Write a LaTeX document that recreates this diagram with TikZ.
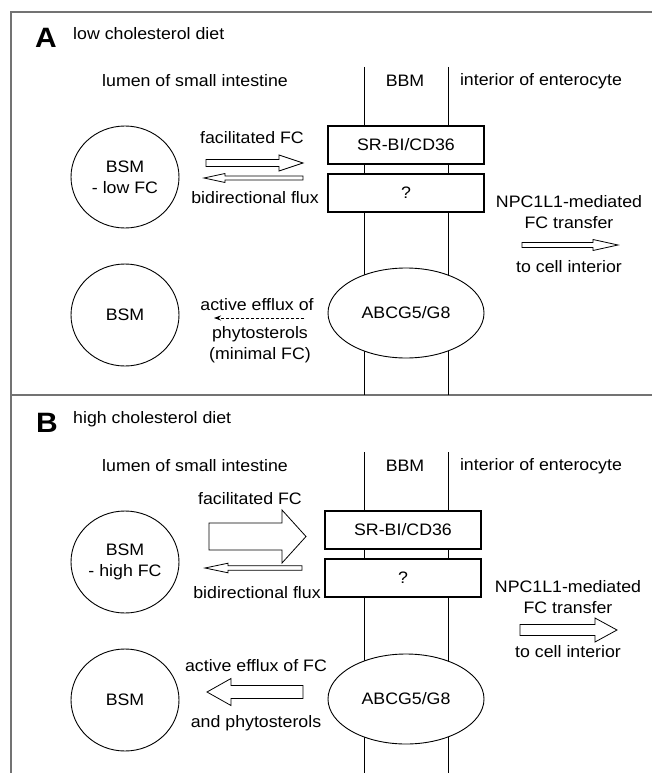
\documentclass[tikz,border=0pt]{standalone}
\usepackage{fontspec}
\setmainfont{Liberation Sans}[FakeStretch=1.07]
\usetikzlibrary{shapes.geometric,arrows.meta}
\tikzset{
  every node/.style={font=\fontsize{16.6}{20}\selectfont, inner sep=0pt},
  frameline/.style={draw=black!55, line width=1.4pt},
  membrane/.style={draw=black, line width=0.9pt},
  bsm/.style={draw, ellipse, line width=0.9pt, fill=white, minimum width=108, minimum height=102, align=center},
  tbox/.style={draw, rectangle, line width=1.1pt, fill=white, minimum width=156, minimum height=38},
  abcg/.style={draw, ellipse, line width=0.9pt, fill=white, minimum width=156, minimum height=90},
  hollow/.style={draw, line width=0.8pt, fill=white, line join=miter},
  lbl/.style={align=center},
  panel/.style={font=\fontsize{28}{30}\selectfont\bfseries}
}
\newcommand{\hollowarr}[6]{%
  \draw[hollow] (#1,{#3-#4}) -- ({#2-(#6)},{#3-#4}) -- ({#2-(#6)},{#3-#5}) -- (#2,#3)
    -- ({#2-(#6)},{#3+#5}) -- ({#2-(#6)},{#3+#4}) -- (#1,{#3+#4}) -- cycle;}
\begin{document}
\begin{tikzpicture}[x=1pt,y=-1pt]
\useasboundingbox[fill=white] (0,0) rectangle (652,773);
% frame
\draw[frameline] (652,12) -- (11,12) -- (11,773);
\draw[frameline] (11,395) -- (652,395);
% ---------- panel A ----------
\node[panel] (labA) at (46,38) {A};
\node[anchor=west] (titA) at (73,34) {low cholesterol diet};
\coordinate (mA1t) at (364,67); \coordinate (mA1b) at (364,395);
\coordinate (mA2t) at (448,67); \coordinate (mA2b) at (448,395);
\draw[membrane] (mA1t) -- (mA1b);
\draw[membrane] (mA2t) -- (mA2b);
\node (lumA) at (195,81) {lumen of small intestine};
\node (bbmA) at (405,81) {BBM};
\node (intA) at (541,81) {interior of enterocyte};
\node[bsm] (bsmA1) at (125,177) {BSM\\[1pt]- low FC};
\node[bsm] (bsmA2) at (125,315) {BSM};
\node[tbox] (srA) at (406,145) {SR-BI/CD36};
\node[tbox] (qA) at (406,193) {?};
\node[abcg] (abA) at (406,313) {ABCG5/G8};
\node (facA) at (252,138) {facilitated FC};
\hollowarr{206}{303}{163}{3.5}{8}{24}
\hollowarr{303}{204}{178}{2}{4.5}{-21}
\node (bidA) at (255,198) {bidirectional flux};
\node[lbl] (npcA) at (569,212) {NPC1L1-mediated\\[1pt]FC transfer};
\hollowarr{522}{618}{245}{2.5}{5.5}{25}
\node (tciA) at (569,267) {to cell interior};
\node (effA) at (257,305) {active efflux of};
\coordinate (dsA) at (304,318); \coordinate (deA) at (214,318);
\draw[line width=0.8pt, dash pattern=on 3pt off 2pt, -{Stealth[length=7pt,width=5pt]}] (dsA) -- (deA);
\node[lbl] (phyA) at (260,345) {phytosterols\\[1pt](minimal FC)};
% ---------- panel B ----------
\node[panel] (labB) at (47,423) {B};
\node[anchor=west] (titB) at (73,419) {high cholesterol diet};
\coordinate (mB1t) at (364,452); \coordinate (mB1b) at (364,773);
\coordinate (mB2t) at (448,452); \coordinate (mB2b) at (448,773);
\draw[membrane] (mB1t) -- (mB1b);
\draw[membrane] (mB2t) -- (mB2b);
\node (lumB) at (195,466) {lumen of small intestine};
\node (bbmB) at (405,466) {BBM};
\node (intB) at (541,466) {interior of enterocyte};
\node[bsm] (bsmB1) at (125,562) {BSM\\[1pt]- high FC};
\node[bsm] (bsmB2) at (125,700) {BSM};
\node[tbox] (srB) at (403,530) {SR-BI/CD36};
\node[tbox] (qB) at (403,578) {?};
\node[abcg] (abB) at (406,699) {ABCG5/G8};
\node (facB) at (250,499) {facilitated FC};
\hollowarr{209}{306}{536.5}{13.5}{26.5}{24}
\hollowarr{302}{205}{568}{2.2}{4.8}{-23}
\node (bidB) at (257,593) {bidirectional flux};
\node[lbl] (npcB) at (568,597) {NPC1L1-mediated\\[1pt]FC transfer};
\hollowarr{520}{617}{630}{5.5}{12}{22}
\node (tciB) at (568,652) {to cell interior};
\node (effB) at (256,666) {active efflux of FC};
\hollowarr{303}{207}{692}{6.5}{13.5}{-24}
\node (phyB) at (256,723) {and phytosterols};
\end{tikzpicture}
\end{document}
